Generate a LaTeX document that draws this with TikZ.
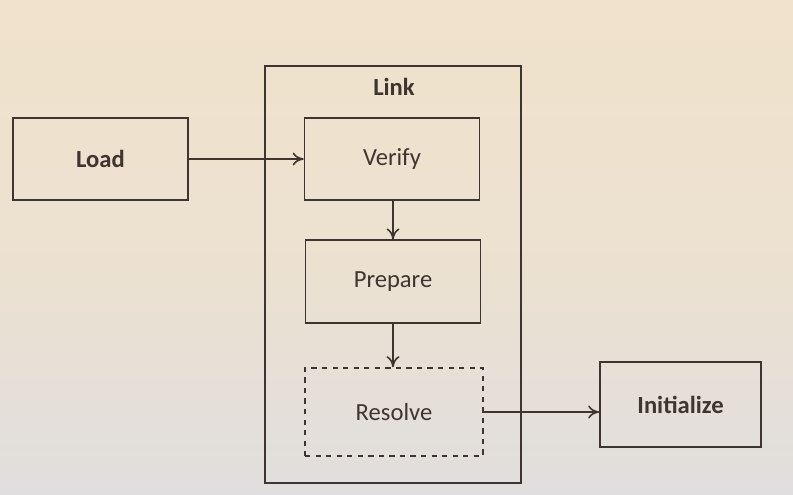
\documentclass[tikz,border=0pt]{standalone}
\usepackage{fontspec}
\setmainfont{Carlito}
\usetikzlibrary{arrows.meta,backgrounds}
\definecolor{cInk}  {RGB}{62,52,48}
\definecolor{cPaper}{RGB}{240,226,204}
\definecolor{cShade}{RGB}{224,222,222}

\begin{document}
\begin{tikzpicture}[
  >={To[length=2.2mm,width=2.6mm]},
  % all boxes share line width and font size
  blk/.style={draw=cInk,line width=0.9pt,minimum width=3.5cm,minimum height=1.65cm,
              align=center,text=cInk,font=\fontsize{14}{17}\selectfont},
  hdr/.style={blk,font=\fontsize{14}{17}\selectfont\bfseries},
  arr/.style={->,draw=cInk,line width=0.9pt},
  grp/.style={draw=cInk,line width=0.9pt},
]

% ------------------------------------------------------------------ paper
\shade[top color=cPaper,bottom color=cShade,middle color=cPaper!80!cShade]
      (0,0) rectangle (15.86,9.88);
\useasboundingbox (0,0) rectangle (15.86,9.88);

% ------------------------------------------------------------------ link stage (container)
\draw[grp] (5.30,0.22) rectangle (10.42,8.56);
\node[text=cInk,font=\fontsize{14}{17}\selectfont\bfseries] (link) at (7.88,8.14) {Link};

% ------------------------------------------------------------------ boxes
\node[hdr]        (load)  at (2.01,6.70)  {Load};
\node[blk]        (ver)   at (7.84,6.70)  {Verify};
\node[blk]        (prep)  at (7.86,4.25)  {Prepare};
\node[blk,dashed,minimum height=1.76cm,minimum width=3.56cm]
                  (res)   at (7.88,1.64)  {Resolve};
\node[hdr,minimum width=3.22cm,minimum height=1.7cm]
                  (init)  at (13.61,1.79) {Initialize};

% ------------------------------------------------------------------ flow
\draw[arr] (load.east) -- (ver.west);
\draw[arr] (ver.south -| prep.north) -- (prep.north);
\draw[arr] (prep.south) -- (prep.south |- res.north);
\draw[arr] (res.east) -- (res.east -| init.west);

\end{tikzpicture}
\end{document}
